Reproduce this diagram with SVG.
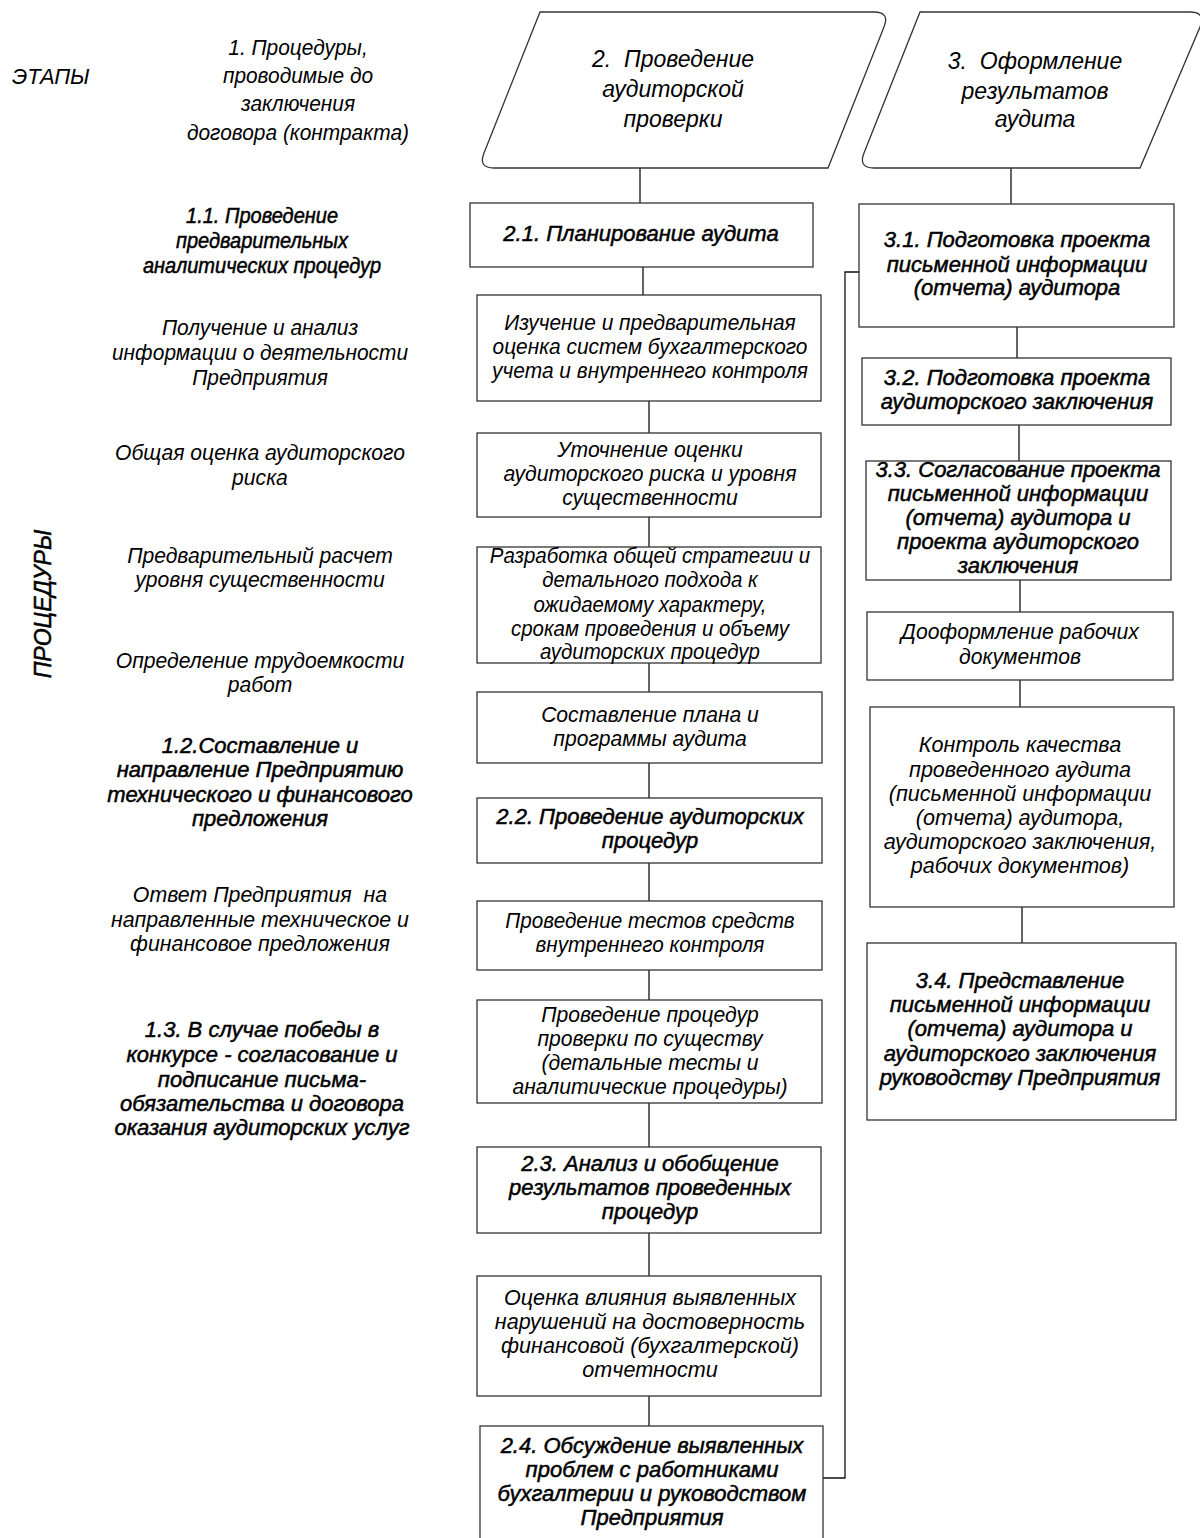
<svg xmlns="http://www.w3.org/2000/svg" width="1200" height="1538" viewBox="0 0 1200 1538">
<style>
text{font-family:"Liberation Sans",Arial,sans-serif;font-size:22px;font-style:italic;fill:#000}
.c{text-anchor:middle}
.b{stroke:#000;stroke-width:0.5}
.h{font-size:23px}
.box{fill:#fff;stroke:#333;stroke-width:1.3}
.ln{fill:none;stroke:#111;stroke-width:1.3}
</style>
<rect width="1200" height="1538" fill="#fff"/>
<g id="connectors">
<path class="ln" d="M640,168V203"/>
<path class="ln" d="M643,267V295"/>
<path class="ln" d="M649,401V433"/>
<path class="ln" d="M649,517V547"/>
<path class="ln" d="M649,663V692"/>
<path class="ln" d="M649,763V798"/>
<path class="ln" d="M649,863V901"/>
<path class="ln" d="M649,970V1000"/>
<path class="ln" d="M649,1103V1147"/>
<path class="ln" d="M649,1233V1276"/>
<path class="ln" d="M649,1396V1426"/>
<path class="ln" d="M1011,168V204"/>
<path class="ln" d="M1017,327V358"/>
<path class="ln" d="M1019,425V461"/>
<path class="ln" d="M1020,580V612"/>
<path class="ln" d="M1020,680V707"/>
<path class="ln" d="M1022,907V943"/>
<path class="ln" d="M823,1478H845V272H859"/>
</g>
<g id="labels-left">
<text x="12" y="84">ЭТАПЫ</text>
<text class="c" transform="matrix(0.95 0 0 1 14.9 0)"><tspan x="298" y="55">1. Процедуры,</tspan><tspan x="298" y="83">проводимые до</tspan><tspan x="298" y="111">заключения</tspan><tspan x="298" y="140">договора (контракта)</tspan></text>
<text class="c b" transform="matrix(0.91 0 0 1 23.6 0)"><tspan x="262" y="223">1.1. Проведение</tspan><tspan x="262" y="248">предварительных</tspan><tspan x="262" y="273">аналитических процедур</tspan></text>
<text class="c" transform="matrix(0.95 0 0 1 13 0)"><tspan x="260" y="335">Получение и анализ</tspan><tspan x="260" y="360">информации о деятельности</tspan><tspan x="260" y="385">Предприятия</tspan></text>
<text class="c" transform="matrix(0.96 0 0 1 10.4 0)"><tspan x="260" y="460">Общая оценка аудиторского</tspan><tspan x="260" y="485">риска</tspan></text>
<text class="c" transform="matrix(0.96 0 0 1 10.4 0)"><tspan x="260" y="563">Предварительный расчет</tspan><tspan x="260" y="587">уровня существенности</tspan></text>
<text class="c" transform="matrix(0.96 0 0 1 10.4 0)"><tspan x="260" y="668">Определение трудоемкости</tspan><tspan x="260" y="692">работ</tspan></text>
<text class="c b"><tspan x="260" y="753">1.2.Составление и</tspan><tspan x="260" y="777">направление Предприятию</tspan><tspan x="260" y="802">технического и финансового</tspan><tspan x="260" y="826">предложения</tspan></text>
<text class="c" transform="matrix(0.97 0 0 1 7.8 0)"><tspan x="260" y="902">Ответ Предприятия&#160; на</tspan><tspan x="260" y="927">направленные техническое и</tspan><tspan x="260" y="951">финансовое предложения</tspan></text>
<text class="c b"><tspan x="262" y="1037">1.3. В случае победы в</tspan><tspan x="262" y="1062">конкурсе - согласование и</tspan><tspan x="262" y="1087">подписание письма-</tspan><tspan x="262" y="1111">обязательства и договора</tspan><tspan x="262" y="1135">оказания аудиторских услуг</tspan></text>
<text class="c b h" transform="translate(51,604) rotate(-90)" x="0" y="0">ПРОЦЕДУРЫ</text>
</g>
<g id="stage2">
<path class="box" d="M540,12H874Q890,12 884,27L828,168H494Q478,168 484,153Z"/>
<text class="c h"><tspan x="673" y="67">2.&#160; Проведение</tspan><tspan x="673" y="97">аудиторской</tspan><tspan x="673" y="127">проверки</tspan></text>
</g>
<g id="stage3">
<path class="box" d="M920,12H1190Q1206,12 1200,27L1140,168H874Q858,168 864,153Z"/>
<text class="c h"><tspan x="1035" y="69">3.&#160; Оформление</tspan><tspan x="1035" y="99">результатов</tspan><tspan x="1035" y="127">аудита</tspan></text>
</g>
<g id="n2-1">
<rect class="box" x="470" y="203" width="343" height="64"/>
<text class="c b" x="641" y="241">2.1. Планирование аудита</text>
</g>
<g id="n-izuchenie">
<rect class="box" x="477" y="295" width="344" height="106"/>
<text class="c" transform="matrix(0.95 0 0 1 32.5 0)"><tspan x="650" y="330">Изучение и предварительная</tspan><tspan x="650" y="354">оценка систем бухгалтерского</tspan><tspan x="650" y="378">учета и внутреннего контроля</tspan></text>
</g>
<g id="n-utochnenie">
<rect class="box" x="477" y="433" width="344" height="84"/>
<text class="c" transform="matrix(0.96 0 0 1 26 0)"><tspan x="650" y="457">Уточнение оценки</tspan><tspan x="650" y="481">аудиторского риска и уровня</tspan><tspan x="650" y="505">существенности</tspan></text>
</g>
<g id="n-razrabotka">
<rect class="box" x="477" y="547" width="344" height="116"/>
<text class="c" transform="matrix(0.93 0 0 1 45.5 0)"><tspan x="650" y="563">Разработка общей стратегии и</tspan><tspan x="650" y="587">детального подхода к</tspan><tspan x="650" y="612">ожидаемому характеру,</tspan><tspan x="650" y="636">срокам проведения и объему</tspan><tspan x="650" y="659">аудиторских процедур</tspan></text>
</g>
<g id="n-plan">
<rect class="box" x="477" y="692" width="345" height="71"/>
<text class="c" transform="matrix(0.96 0 0 1 26 0)"><tspan x="650" y="722">Составление плана и</tspan><tspan x="650" y="746">программы аудита</tspan></text>
</g>
<g id="n2-2">
<rect class="box" x="477" y="798" width="345" height="65"/>
<text class="c b"><tspan x="650" y="824">2.2. Проведение аудиторских</tspan><tspan x="650" y="848">процедур</tspan></text>
</g>
<g id="n-testy">
<rect class="box" x="477" y="901" width="345" height="69"/>
<text class="c" transform="matrix(0.94 0 0 1 39 0)"><tspan x="650" y="928">Проведение тестов средств</tspan><tspan x="650" y="952">внутреннего контроля</tspan></text>
</g>
<g id="n-suschestvo">
<rect class="box" x="477" y="1000" width="345" height="103"/>
<text class="c" transform="matrix(0.96 0 0 1 26 0)"><tspan x="650" y="1022">Проведение процедур</tspan><tspan x="650" y="1046">проверки по существу</tspan><tspan x="650" y="1070">(детальные тесты и</tspan><tspan x="650" y="1094">аналитические процедуры)</tspan></text>
</g>
<g id="n2-3">
<rect class="box" x="477" y="1147" width="344" height="86"/>
<text class="c b"><tspan x="650" y="1171">2.3. Анализ и обобщение</tspan><tspan x="650" y="1195">результатов проведенных</tspan><tspan x="650" y="1219">процедур</tspan></text>
</g>
<g id="n-ocenka">
<rect class="box" x="477" y="1276" width="344" height="120"/>
<text class="c" transform="matrix(0.98 0 0 1 13 0)"><tspan x="650" y="1305">Оценка влияния выявленных</tspan><tspan x="650" y="1329">нарушений на достоверность</tspan><tspan x="650" y="1353">финансовой (бухгалтерской)</tspan><tspan x="650" y="1377">отчетности</tspan></text>
</g>
<g id="n2-4">
<rect class="box" x="480" y="1426" width="343" height="130"/>
<text class="c b"><tspan x="652" y="1453">2.4. Обсуждение выявленных</tspan><tspan x="652" y="1477">проблем с работниками</tspan><tspan x="652" y="1501">бухгалтерии и руководством</tspan><tspan x="652" y="1525">Предприятия</tspan></text>
</g>
<g id="n3-1">
<rect class="box" x="859" y="204" width="315" height="123"/>
<text class="c b"><tspan x="1017" y="247">3.1. Подготовка проекта</tspan><tspan x="1017" y="272">письменной информации</tspan><tspan x="1017" y="295">(отчета) аудитора</tspan></text>
</g>
<g id="n3-2">
<rect class="box" x="862" y="358" width="309" height="67"/>
<text class="c b"><tspan x="1017" y="385">3.2. Подготовка проекта</tspan><tspan x="1017" y="409">аудиторского заключения</tspan></text>
</g>
<g id="n3-3">
<rect class="box" x="866" y="461" width="305" height="119"/>
<text class="c b"><tspan x="1018" y="477">3.3. Согласование проекта</tspan><tspan x="1018" y="501">письменной информации</tspan><tspan x="1018" y="525">(отчета) аудитора и</tspan><tspan x="1018" y="549">проекта аудиторского</tspan><tspan x="1018" y="573">заключения</tspan></text>
</g>
<g id="n-dooformlenie">
<rect class="box" x="867" y="612" width="306" height="68"/>
<text class="c" transform="matrix(0.96 0 0 1 40.8 0)"><tspan x="1020" y="639">Дооформление рабочих</tspan><tspan x="1020" y="664">документов</tspan></text>
</g>
<g id="n-kontrol">
<rect class="box" x="870" y="707" width="304" height="200"/>
<text class="c" transform="matrix(0.98 0 0 1 20.4 0)"><tspan x="1020" y="752">Контроль качества</tspan><tspan x="1020" y="777">проведенного аудита</tspan><tspan x="1020" y="801">(письменной информации</tspan><tspan x="1020" y="825">(отчета) аудитора,</tspan><tspan x="1020" y="849">аудиторского заключения,</tspan><tspan x="1020" y="873">рабочих документов)</tspan></text>
</g>
<g id="n3-4">
<rect class="box" x="867" y="943" width="309" height="177"/>
<text class="c b"><tspan x="1020" y="988">3.4. Представление</tspan><tspan x="1020" y="1012">письменной информации</tspan><tspan x="1020" y="1036">(отчета) аудитора и</tspan><tspan x="1020" y="1061">аудиторского заключения</tspan><tspan x="1020" y="1085">руководству Предприятия</tspan></text>
</g>
</svg>
